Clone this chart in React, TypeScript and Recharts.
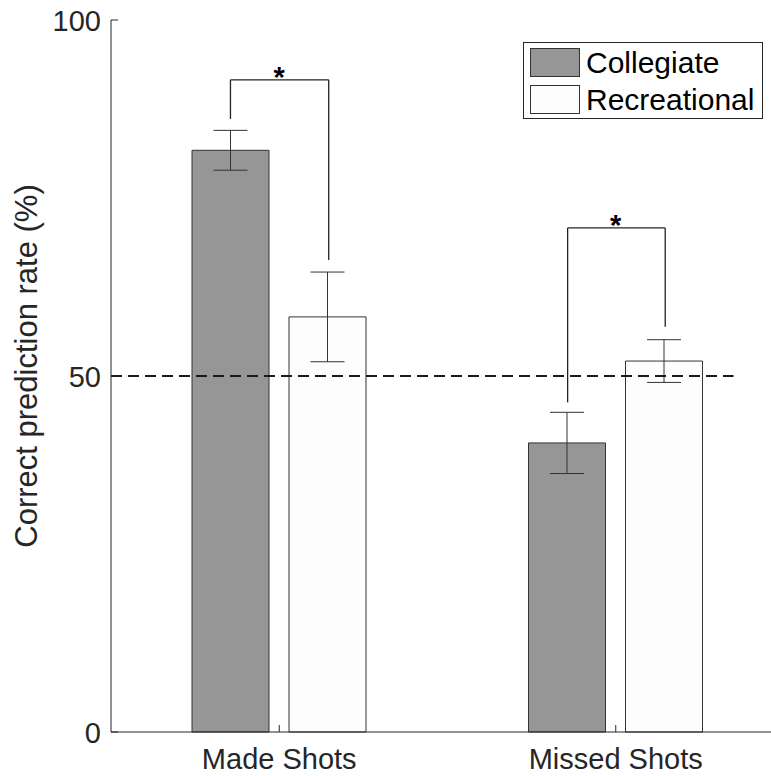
import {
  Bar,
  BarChart,
  ErrorBar,
  Legend,
  ReferenceDot,
  ReferenceLine,
  XAxis,
  YAxis,
} from 'recharts'

const categories = ['Made Shots', 'Missed Shots']
const categoryPos = [1, 2]
const collegiate = [81.7, 40.6]
const collegiateErr = [2.8, 4.3]
const recreational = [58.3, 52.1]
const recreationalErr = [6.3, 3.0]
const yTicks = [0, 50, 100]
const chanceLevel = 50
const chanceLineEnd = 2.35

// significance brackets, in data units (x on the numeric helper axis)
const bracketLeftX = [0.855, 1.857]
const bracketRightX = [1.147, 2.147]
const bracketTop = [91.6, 70.8]
const bracketLeftBottom = [86.1, 46.3]
const bracketRightBottom = [66.3, 56.9]
const starX = [1, 2]

const FONT = '"Liberation Sans", Arial, Helvetica, sans-serif'
const TEXT = '#262626'
const AXIS = '#262626'
const GRAY = '#969696'
const WHITE = '#fdfdfd'

const chartData = categories.map((name, i) => ({
  name,
  pos: categoryPos[i],
  collegiate: collegiate[i],
  collegiateErr: collegiateErr[i],
  recreational: recreational[i],
  recreationalErr: recreationalErr[i],
}))

function XTick({ x, y, payload }: any) {
  return (
    <g>
      <line x1={x} y1={y} x2={x} y2={y - 7} stroke={AXIS} />
      <text x={x} y={y + 37} textAnchor="middle" fontSize={29} fill={TEXT} fontFamily={FONT}>
        {payload.value}
      </text>
    </g>
  )
}

function YTick({ x, y, payload }: any) {
  return (
    <g>
      <line x1={x} y1={y} x2={x + 7} y2={y} stroke={AXIS} />
      <text x={x - 10} y={y} dy={10.5} textAnchor="end" fontSize={29} fill={TEXT} fontFamily={FONT}>
        {payload.value}
      </text>
    </g>
  )
}

function YTitle({ viewBox }: any) {
  const cx = 37
  const cy = viewBox.y + viewBox.height / 2 - 10
  return (
    <text
      x={cx}
      y={cy}
      transform={`rotate(-90, ${cx}, ${cy})`}
      textAnchor="middle"
      fontSize={31}
      fill={TEXT}
      fontFamily={FONT}
    >
      Correct prediction rate (%)
    </text>
  )
}

function LegendBox({ payload }: any) {
  return (
    <div
      style={{
        width: 238,
        height: 75,
        border: `1px solid ${AXIS}`,
        background: '#fff',
        fontFamily: FONT,
        fontSize: 30,
        color: '#000',
        position: 'relative',
      }}
    >
      {(payload || []).map((entry: any, i: number) => (
        <div
          key={entry.value}
          style={{ position: 'absolute', left: 6, top: 5 + i * 37, display: 'flex', alignItems: 'center' }}
        >
          <div
            style={{
              width: 48,
              height: 27,
              background: entry.payload?.fill ?? entry.color,
              border: '1px solid #333',
            }}
          />
          <span style={{ marginLeft: 6, lineHeight: '29px' }}>{entry.value}</span>
        </div>
      ))}
    </div>
  )
}

function Star({ cx, cy }: any) {
  return (
    <text x={cx} y={cy + 7} textAnchor="middle" fontSize={29} fontWeight="bold" fill="#000" fontFamily={FONT}>
      *
    </text>
  )
}

export default function App() {
  return (
    <div style={{ position: 'absolute', left: 0, top: 0, width: 771, height: 776, overflow: 'hidden' }}>
      <BarChart
        width={798}
        height={776}
        data={chartData}
        margin={{ top: 20, right: 14, bottom: 0, left: 0 }}
        barGap={20}
      >
        <XAxis
          dataKey="name"
          height={44}
          stroke={AXIS}
          tickLine={false}
          tickSize={0}
          tickMargin={0}
          tick={<XTick />}
        />
        <XAxis xAxisId="n" dataKey="pos" type="number" domain={[0.5, 2.5]} allowDataOverflow hide />
        <YAxis
          domain={[0, 100]}
          ticks={yTicks}
          width={111}
          stroke={AXIS}
          tickLine={false}
          tickSize={0}
          tickMargin={0}
          tick={<YTick />}
          label={(props: any) => <YTitle {...props} />}
        />
        <Legend
          layout="horizontal"
          verticalAlign="middle"
          align="center"
          content={<LegendBox />}
          wrapperStyle={{ position: 'absolute', left: 523, top: 42, width: 240, height: 77 }}
        />
        <Bar
          dataKey="collegiate"
          name="Collegiate"
          fill={GRAY}
          stroke="#333"
          strokeWidth={1}
          barSize={77}
          isAnimationActive={false}
        >
          <ErrorBar dataKey="collegiateErr" width={17} stroke="#333" strokeWidth={1} />
        </Bar>
        <Bar
          dataKey="recreational"
          name="Recreational"
          fill={WHITE}
          stroke="#333"
          strokeWidth={1}
          barSize={77}
          isAnimationActive={false}
        >
          <ErrorBar dataKey="recreationalErr" width={17} stroke="#333" strokeWidth={1} />
        </Bar>
        <ReferenceLine
          xAxisId="n"
          segment={[
            { x: 0.5, y: chanceLevel },
            { x: chanceLineEnd, y: chanceLevel },
          ]}
          stroke="#1a1a1a"
          strokeWidth={2}
          strokeDasharray="11 6"
          ifOverflow="visible"
        />
        {categories.map((c, i) => (
          <ReferenceLine
            key={`l-${c}`}
            xAxisId="n"
            segment={[
              { x: bracketLeftX[i], y: bracketLeftBottom[i] },
              { x: bracketLeftX[i], y: bracketTop[i] },
            ]}
            stroke="#222"
            strokeWidth={1.3}
            ifOverflow="visible"
          />
        ))}
        {categories.map((c, i) => (
          <ReferenceLine
            key={`t-${c}`}
            xAxisId="n"
            segment={[
              { x: bracketLeftX[i], y: bracketTop[i] },
              { x: bracketRightX[i], y: bracketTop[i] },
            ]}
            stroke="#222"
            strokeWidth={1.3}
            ifOverflow="visible"
          />
        ))}
        {categories.map((c, i) => (
          <ReferenceLine
            key={`r-${c}`}
            xAxisId="n"
            segment={[
              { x: bracketRightX[i], y: bracketTop[i] },
              { x: bracketRightX[i], y: bracketRightBottom[i] },
            ]}
            stroke="#222"
            strokeWidth={1.3}
            ifOverflow="visible"
          />
        ))}
        {categories.map((c, i) => (
          <ReferenceDot
            key={`s-${c}`}
            xAxisId="n"
            x={starX[i]}
            y={bracketTop[i]}
            r={0}
            ifOverflow="visible"
            shape={<Star />}
          />
        ))}
      </BarChart>
    </div>
  )
}
